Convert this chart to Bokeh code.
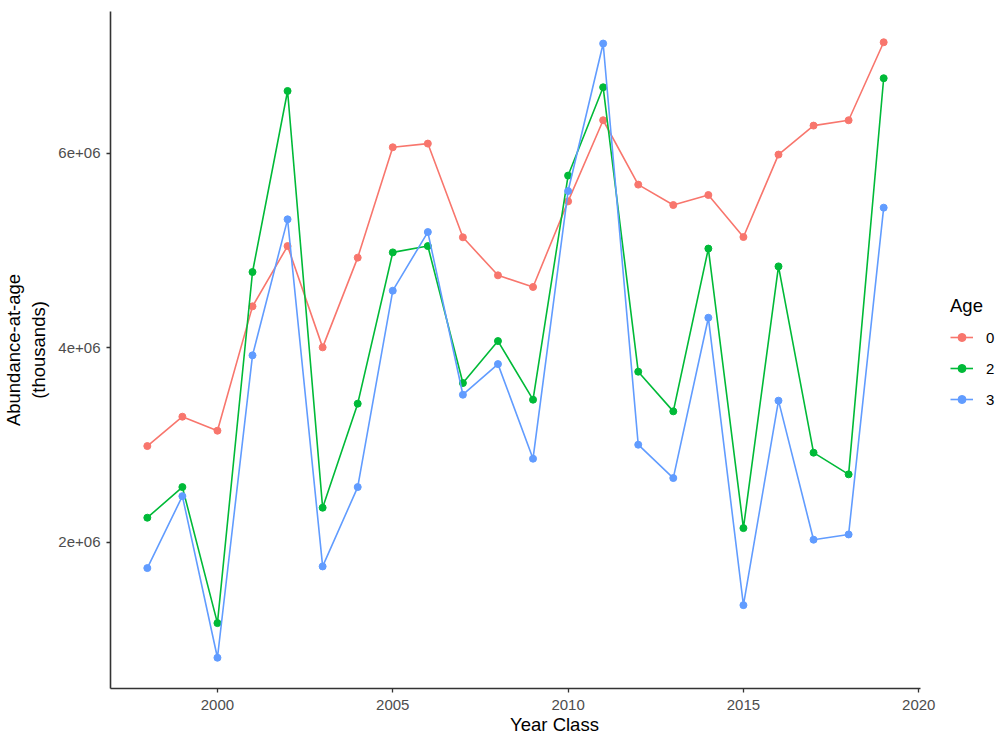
from bokeh.plotting import figure
from bokeh.models import Range1d, Legend, LegendItem, FixedTicker, ColumnDataSource
from bokeh.embed import file_html
from bokeh.resources import INLINE

# ---- data ----
years = list(range(1998, 2020))
age_labels = ["0", "2", "3"]
age0 = [2.990e6, 3.292e6, 3.148e6, 4.427e6, 5.047e6, 4.005e6, 4.928e6, 6.063e6, 6.101e6, 5.137e6, 4.746e6,
        4.626e6, 5.507e6, 6.341e6, 5.679e6, 5.469e6, 5.572e6, 5.140e6, 5.988e6, 6.286e6, 6.341e6, 7.143e6]
age2 = [2.253e6, 2.568e6, 1.169e6, 4.780e6, 6.642e6, 2.356e6, 3.426e6, 4.982e6, 5.047e6, 3.638e6, 4.070e6,
        3.467e6, 5.772e6, 6.680e6, 3.755e6, 3.347e6, 5.021e6, 2.146e6, 4.838e6, 2.922e6, 2.699e6, 6.773e6]
age3 = [1.735e6, 2.475e6, 0.813e6, 3.923e6, 5.322e6, 1.752e6, 2.568e6, 4.588e6, 5.191e6, 3.518e6, 3.833e6,
        2.860e6, 5.613e6, 7.130e6, 3.004e6, 2.661e6, 4.310e6, 1.354e6, 3.457e6, 2.027e6, 2.081e6, 5.442e6]
x_ticks = [2000, 2005, 2010, 2015, 2020]
y_ticks = [2e6, 4e6, 6e6]
y_tick_labels = ["2e+06", "4e+06", "6e+06"]
colors = ["#F8766D", "#00BA38", "#619CFF"]

FONT = "Liberation Sans"

# layout (pixels)
W, H = 998, 738
LEFT, RIGHT, TOP, BOTTOM = 110, 0, 11, 50
PANEL_W = 810          # width of the data panel (axis line length), legend sits to its right
frame_w = W - LEFT - RIGHT

# ranges with ggplot 5% expansion
xmin, xmax = min(years), max(years)
allv = age0 + age2 + age3
ymin, ymax = min(allv), max(allv)
xpad = (xmax - xmin) * 0.05
ypad = (ymax - ymin) * 0.05
x0, x1 = xmin - xpad, xmax + xpad
# extend the range so the frame also holds the legend area, while the axis stops at x1
x_end = x0 + (x1 - x0) * frame_w / PANEL_W

p = figure(width=W, height=H, output_backend="svg", toolbar_location=None,
           x_range=Range1d(x0, x_end),
           y_range=Range1d(ymin - ypad, ymax + ypad),
           min_border_left=LEFT, min_border_right=RIGHT, min_border_top=TOP, min_border_bottom=BOTTOM)

p.outline_line_color = None
p.xgrid.visible = False
p.ygrid.visible = False
p.background_fill_color = "white"
p.border_fill_color = "white"

items = []
for lab, vals, col in zip(age_labels, [age0, age2, age3], colors):
    src = ColumnDataSource(dict(x=years, y=vals))
    ln = p.line("x", "y", source=src, line_color=col, line_width=1.6)
    pt = p.scatter("x", "y", source=src, size=7, fill_color=col, line_color=col)
    items.append(LegendItem(label=lab, renderers=[ln, pt]))

# axes
for ax in (p.xaxis[0], p.yaxis[0]):
    ax.axis_line_color = "#333333"
    ax.axis_line_width = 1.6
    ax.major_tick_line_color = "#333333"
    ax.major_tick_line_width = 1.3
    ax.major_tick_out = 4
    ax.major_tick_in = 0
    ax.minor_tick_line_color = None
    ax.major_label_text_font = FONT
    ax.major_label_text_font_size = "15px"
    ax.major_label_text_color = "#4D4D4D"
    ax.axis_label_text_font = FONT
    ax.axis_label_text_font_size = "18.5px"
    ax.axis_label_text_font_style = "normal"
    ax.axis_label_text_color = "black"

p.xaxis.ticker = FixedTicker(ticks=x_ticks)
p.xaxis.bounds = (x0, x1)
p.xaxis.axis_label = "Year Class"
p.xaxis.major_label_standoff = 7
p.xaxis.axis_label_standoff = 1

p.yaxis.ticker = FixedTicker(ticks=y_ticks)
p.yaxis.major_label_overrides = {t: l for t, l in zip(y_ticks, y_tick_labels)}
p.yaxis.axis_label = "Abundance-at-age\n(thousands)"
p.yaxis.major_label_standoff = 6
p.yaxis.axis_label_standoff = 6
p.yaxis.axis_label_text_align = "center"

legend = Legend(items=items, location=(840, 279), title="Age",
                title_text_font=FONT, title_text_font_size="18.5px", title_text_color="black",
                title_text_font_style="normal", title_standoff=10,
                label_text_font=FONT, label_text_font_size="15px", label_text_color="black",
                glyph_width=23, glyph_height=20, label_height=20, label_standoff=13,
                spacing=11, padding=2, margin=0,
                border_line_color=None, background_fill_alpha=0)
p.add_layout(legend)

open("out.html", "w").write(file_html(p, INLINE))
